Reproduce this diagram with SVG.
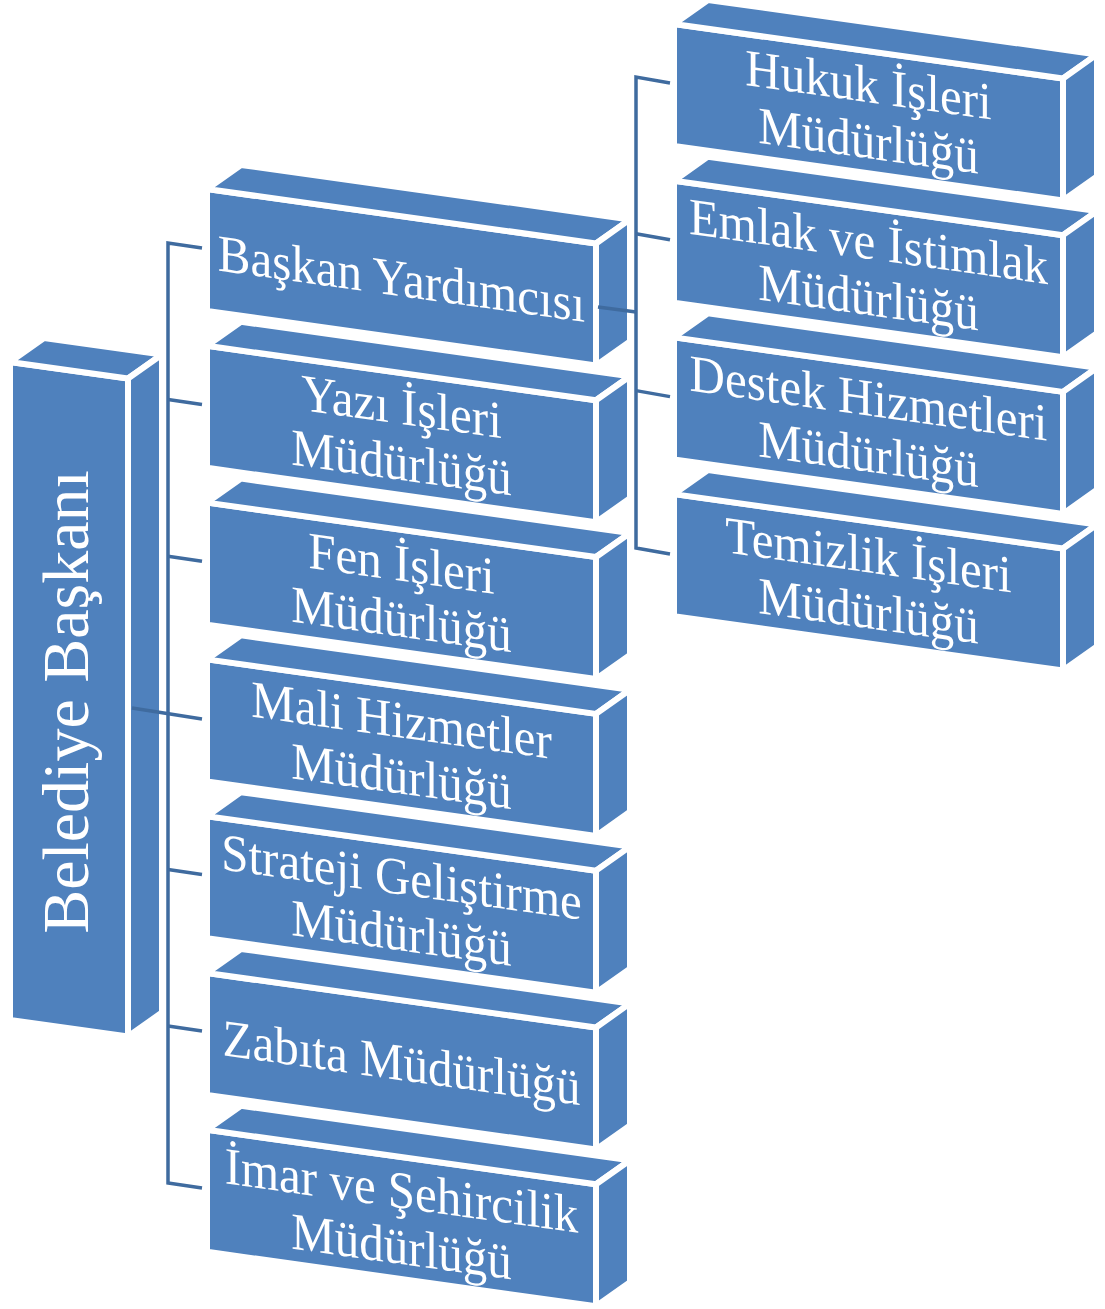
<svg xmlns="http://www.w3.org/2000/svg" width="1105" height="1309" viewBox="0 0 1105 1309">
<style>
.face{fill:#4F81BD;stroke:#FFFFFF;stroke-width:6;stroke-linejoin:round;vector-effect:non-scaling-stroke}
.lbl{fill:#FFFFFF;font-family:"Liberation Serif","Times New Roman",serif;font-size:49px;text-anchor:middle}
.big{fill:#FFFFFF;font-family:"Liberation Serif","Times New Roman",serif;font-size:66px;text-anchor:middle}
.con{fill:none;stroke:#3F6B9F;stroke-width:3.5;stroke-linejoin:miter}
</style>
<defs>
<g id="box">
<rect class="face" x="0" y="0" width="389" height="122"/>
<polygon class="face" points="0,0 389,0 423,-28.8 34,-28.8"/>
<polygon class="face" points="389,0 423,-28.8 423,93.2 389,122"/>
</g>
</defs>
<rect width="1105" height="1309" fill="#FFFFFF"/>

<g id="belediye-baskani">
<g transform="matrix(1,0.14,0,1,10,362)">
<rect class="face" x="0" y="0" width="118" height="658"/>
<polygon class="face" points="0,0 118,0 152,-28.8 34,-28.8"/>
<polygon class="face" points="118,0 152,-28.8 152,629.2 118,658"/>
</g>
<text class="big" transform="rotate(-90 88 702)" x="88" y="702">Belediye Başkanı</text>
</g>

<g id="baskan-yardimcisi" transform="matrix(1,0.14,0,1,207,189)">
<use href="#box"/>
<text class="lbl" transform="matrix(1,0,0,1.07,194.5,80)">Başkan Yardımcısı</text>
</g>
<g id="yazi-isleri" transform="matrix(1,0.14,0,1,207,345.8)">
<use href="#box"/>
<text class="lbl" transform="matrix(1,0,0,1.07,194.5,51)">Yazı İşleri</text>
<text class="lbl" transform="matrix(1,0,0,1.07,194.5,107)">Müdürlüğü</text>
</g>
<g id="fen-isleri" transform="matrix(1,0.14,0,1,207,502.6)">
<use href="#box"/>
<text class="lbl" transform="matrix(1,0,0,1.07,194.5,51)">Fen İşleri</text>
<text class="lbl" transform="matrix(1,0,0,1.07,194.5,107)">Müdürlüğü</text>
</g>
<g id="mali-hizmetler" transform="matrix(1,0.14,0,1,207,659.4)">
<use href="#box"/>
<text class="lbl" transform="matrix(1,0,0,1.07,194.5,51)">Mali Hizmetler</text>
<text class="lbl" transform="matrix(1,0,0,1.07,194.5,107)">Müdürlüğü</text>
</g>
<g id="strateji" transform="matrix(1,0.14,0,1,207,816.2)">
<use href="#box"/>
<text class="lbl" transform="matrix(1,0,0,1.07,194.5,51)">Strateji Geliştirme</text>
<text class="lbl" transform="matrix(1,0,0,1.07,194.5,107)">Müdürlüğü</text>
</g>
<g id="zabita" transform="matrix(1,0.14,0,1,207,973)">
<use href="#box"/>
<text class="lbl" transform="matrix(1,0,0,1.07,194.5,80)">Zabıta Müdürlüğü</text>
</g>
<g id="imar" transform="matrix(1,0.14,0,1,207,1129.8)">
<use href="#box"/>
<text class="lbl" transform="matrix(1,0,0,1.07,194.5,51)">İmar ve Şehircilik</text>
<text class="lbl" transform="matrix(1,0,0,1.07,194.5,107)">Müdürlüğü</text>
</g>

<g id="hukuk" transform="matrix(1,0.14,0,1,674,24)">
<use href="#box"/>
<text class="lbl" transform="matrix(1,0,0,1.07,194.5,51)">Hukuk İşleri</text>
<text class="lbl" transform="matrix(1,0,0,1.07,194.5,107)">Müdürlüğü</text>
</g>
<g id="emlak" transform="matrix(1,0.14,0,1,674,180.7)">
<use href="#box"/>
<text class="lbl" transform="matrix(1,0,0,1.07,194.5,51)">Emlak ve İstimlak</text>
<text class="lbl" transform="matrix(1,0,0,1.07,194.5,107)">Müdürlüğü</text>
</g>
<g id="destek" transform="matrix(1,0.14,0,1,674,337.4)">
<use href="#box"/>
<text class="lbl" transform="matrix(1,0,0,1.07,194.5,51)">Destek Hizmetleri</text>
<text class="lbl" transform="matrix(1,0,0,1.07,194.5,107)">Müdürlüğü</text>
</g>
<g id="temizlik" transform="matrix(1,0.14,0,1,674,494.1)">
<use href="#box"/>
<text class="lbl" transform="matrix(1,0,0,1.07,194.5,51)">Temizlik İşleri</text>
<text class="lbl" transform="matrix(1,0,0,1.07,194.5,107)">Müdürlüğü</text>
</g>

<g id="connectors">
<path class="con" d="M202,248 L168,243 L168,1183 L202,1188"/>
<path class="con" d="M168,399.6 L202,404.6"/>
<path class="con" d="M168,556.2 L202,561.2"/>
<path class="con" d="M132,708 L202,719"/>
<path class="con" d="M168,869.4 L202,874.4"/>
<path class="con" d="M168,1026 L202,1031"/>
<path class="con" d="M670,83 L636,77 L636,548 L670,554"/>
<path class="con" d="M636,233.8 L670,239.8"/>
<path class="con" d="M636,390.6 L670,396.6"/>
<path class="con" d="M598,307 L636,312"/>
</g>
</svg>
